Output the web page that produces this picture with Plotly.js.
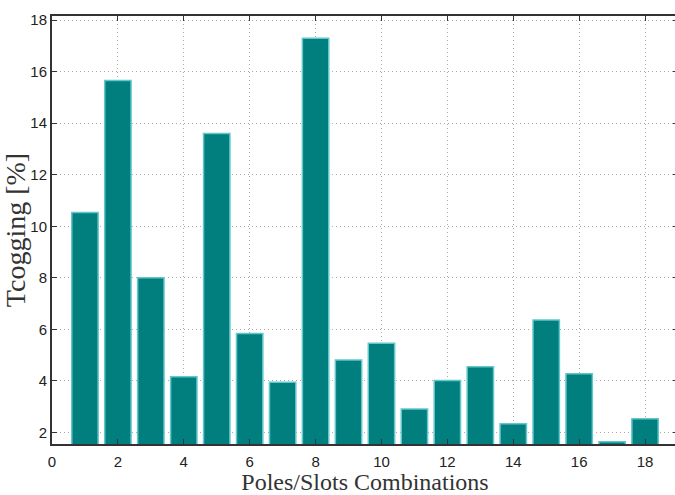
<!DOCTYPE html>
<html>
<head>
<meta charset="utf-8">
<script src="https://cdn.plot.ly/plotly-3.0.1.min.js"></script>
<style>
html,body{margin:0;padding:0;overflow:hidden;background:#fff;}
#chart{width:678px;height:495px;}
</style>
</head>
<body>
<div id="chart"></div>
<script>
const combinations = [1,2,3,4,5,6,7,8,9,10,11,12,13,14,15,16,17,18];
const tcogging = [10.53,15.66,8.0,4.16,13.6,5.84,3.95,17.3,4.81,5.46,2.91,4.01,4.55,2.34,6.36,4.28,1.64,2.53];
const xTicks = [0,2,4,6,8,10,12,14,16,18];
const yTicks = [2,4,6,8,10,12,14,16,18];
const xTitle = 'Poles/Slots Combinations';
const yTitle = 'Tcogging [%]';

const trace = {
  type: 'bar',
  x: combinations,
  y: tcogging,
  base: 0,
  width: 0.8,
  marker: {color: '#007f7e', line: {color: '#62c6cb', width: 1.5}},
  hoverinfo: 'x+y'
};

const tickFont = {family: 'Liberation Sans, Arial, sans-serif', size: 15, color: '#222'};
const xTitleFont = {family: 'Liberation Serif, Times New Roman, serif', size: 24, color: '#333'};
const yTitleFont = {family: 'Liberation Serif, Times New Roman, serif', size: 28, color: '#333'};

const layout = {
  width: 678, height: 495,
  margin: {l: 52, r: 0, t: 16, b: 51},
  paper_bgcolor: '#fff', plot_bgcolor: '#fff',
  showlegend: false,
  bargap: 0,
  xaxis: {
    range: [0, 19],
    tickvals: xTicks, ticktext: xTicks.map(String),
    ticks: 'inside', ticklen: 5, tickcolor: '#333', tickwidth: 1,
    mirror: 'allticks', showline: true, linecolor: '#333', linewidth: 2,
    showgrid: true, gridcolor: '#aaaaaa', griddash: '1px,3px', gridwidth: 1,
    zeroline: false, tickfont: tickFont, ticklabelstandoff: 3,
    title: {text: xTitle, font: xTitleFont, standoff: 1}
  },
  yaxis: {
    range: [1.55, 18.16],
    tickvals: yTicks, ticktext: yTicks.map(String),
    ticks: 'inside', ticklen: 5, tickcolor: '#333', tickwidth: 1,
    mirror: 'allticks', showline: true, linecolor: '#333', linewidth: 2,
    showgrid: true, gridcolor: '#aaaaaa', griddash: '1px,3px', gridwidth: 1,
    zeroline: false, tickfont: tickFont, ticklabelstandoff: 0,
    title: {text: yTitle, font: yTitleFont, standoff: 0}
  }
};

Plotly.newPlot('chart', [trace], layout, {staticPlot: true, displayModeBar: false});
</script>
</body>
</html>
